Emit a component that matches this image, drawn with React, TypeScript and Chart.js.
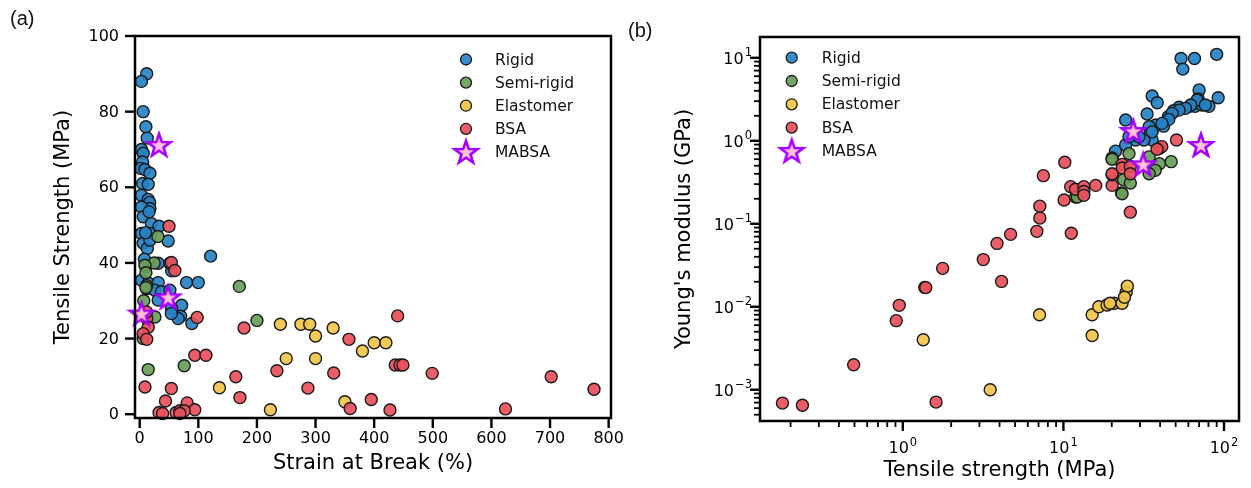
import React, { useEffect, useRef } from "react";
import { Chart, registerables } from "chart.js";
Chart.register(...registerables);

// ---------- Panel (a): strain at break (%) vs tensile strength (MPa) ----------
const rigidA: number[][] = [
  [12, 90], [3, 88], [6, 80], [10.6, 76], [12.8, 73], [3, 70], [6, 69], [5, 66.7], [1.5, 65], [8.9, 64.7],
  [17.4, 63.7], [5, 61], [14.5, 60.8], [3, 57.9], [14.5, 56.8], [17, 56], [17.4, 54.4], [3, 54.8], [6, 52.2],
  [16, 53.5], [20, 50.4], [3, 47.8], [20, 47.8], [6, 45.2], [13, 43.8], [17.4, 46], [33, 49.7], [48.6, 45.8],
  [121, 41.8], [31.6, 39.9], [54.4, 37.9], [51.5, 39.9], [3, 35.4], [14.5, 34.7], [31.6, 34.8], [80, 34.8],
  [100, 34.8], [11.8, 33.2], [26, 32.8], [37, 32.4], [51.5, 32.8], [31.6, 30.2], [71.5, 28.8], [54.4, 28],
  [69.8, 25.9], [89, 24], [65.7, 25.3], [54, 26.6], [8, 41], [10, 48],
];
const semiA: number[][] = [
  [31, 47], [10.6, 39], [24.7, 40], [8.9, 39.4], [10.6, 37.4], [11.8, 34], [170, 33.8], [7, 30], [26, 25.7],
  [200, 24.8], [6, 20], [76, 12.8], [14.5, 11.8], [10.6, 33.5],
];
const elastA: number[][] = [
  [136, 7], [240, 23.8], [275, 23.8], [290, 23.8], [300, 20.7], [330, 22.8], [380, 16.7], [400, 18.9],
  [420, 18.9], [250, 14.7], [300, 14.7], [223, 1.2], [350, 3.3],
];
const bsaA: number[][] = [
  [50, 49.7], [54, 40.1], [60, 38], [98, 25.6], [178, 22.8], [12, 25.3], [14.5, 23], [6, 21.3], [12, 19.8],
  [94, 15.6], [113, 15.6], [9, 7.2], [54, 6.8], [164, 9.9], [171, 4.4], [44, 3.5], [81, 3], [94, 1.2],
  [33, 0.45], [39, 0.2], [62, 0.45], [68.6, 0.9], [76, 0.9], [68.6, 0.2], [357, 19.8], [440, 26], [436, 13],
  [444, 13], [449, 13], [499, 10.8], [702, 9.9], [775, 6.6], [624, 1.4], [234, 11.5], [331, 10.9], [287, 6.9],
  [359, 1.5], [395, 3.9], [427, 1.1], [11.8, 27],
];
const mabsaA: number[][] = [[33, 71.2], [48.6, 30.9], [3, 26.6]];

// ---------- Panel (b): tensile strength (MPa) vs Young's modulus (GPa) ----------
const rigidB: number[][] = [
  [54, 9.8], [65.5, 9.8], [90, 11], [55.4, 7.3], [70, 4.1], [69, 3.2], [92, 3.3], [35.7, 3.46], [38.4, 2.87],
  [33.2, 2.1], [24.4, 1.78], [61, 2.6], [63.6, 2.7], [66, 2.6], [73, 2.7], [80.5, 2.6], [52.5, 2.53],
  [48.5, 2.3], [45, 1.95], [42, 1.5], [37.6, 1.55], [34.2, 1.48], [34.9, 1.23], [35.7, 1.02], [28.1, 1.02],
  [24.4, 0.89], [21.1, 0.75], [31.7, 1.02], [68, 3.1], [76.5, 2.7], [62, 2.7], [57.5, 2.46], [52.5, 2.34],
  [47.5, 2.14], [45.3, 1.81], [41.1, 1.62], [35.7, 1.28], [29.5, 1.12], [25.6, 1.12],
];
const semiB: number[][] = [
  [46.9, 0.56], [39.6, 0.53], [34.2, 0.64], [37.3, 0.44], [34.2, 0.4], [20.1, 0.62], [25.6, 0.7], [23.7, 0.34],
  [26.1, 0.31], [23, 0.235], [11.9, 0.21], [12.2, 0.21], [20.1, 0.6], [23.2, 0.23],
];
const elastB: number[][] = [
  [1.34, 0.004], [3.5, 0.001], [7.1, 0.008], [15.1, 0.008], [15.1, 0.0045], [16.6, 0.01], [18.7, 0.0105],
  [20.7, 0.011], [23.2, 0.011], [24.6, 0.015], [25, 0.0177], [24, 0.013], [19.5, 0.011],
];
const bsaB: number[][] = [
  [0.178, 0.00069], [0.237, 0.00065], [0.494, 0.002], [0.91, 0.0068], [0.95, 0.0104], [1.37, 0.0171],
  [1.39, 0.017], [1.61, 0.00071], [1.77, 0.029], [3.17, 0.037], [3.86, 0.058], [4.12, 0.0202], [4.69, 0.0745],
  [6.83, 0.081], [7.13, 0.117], [7.13, 0.163], [7.5, 0.38], [10.1, 0.193], [10.2, 0.55], [11.2, 0.077],
  [11.1, 0.28], [11.9, 0.26], [13.4, 0.28], [13.4, 0.245], [13.4, 0.22], [15.9, 0.29], [20.1, 0.29],
  [20.1, 0.39], [23.2, 0.52], [23.2, 0.47], [26.1, 0.49], [26.1, 0.4], [20.1, 0.4], [26.1, 0.138],
  [50.6, 1.02], [39.6, 0.81], [41, 0.85], [38.3, 0.79],
];
const mabsaB: number[][] = [[71.9, 0.89], [27.2, 1.31], [31.4, 0.52]];

// ---------- Labels / ticks ----------
const seriesNames = ["Rigid", "Semi-rigid", "Elastomer", "BSA", "MABSA"];
const seriesColors = ["rgba(38,130,198,0.92)", "rgba(104,158,88,0.92)", "rgba(242,196,74,0.92)", "rgba(234,80,90,0.92)", "pink"];
const aXTicks = [0, 100, 200, 300, 400, 500, 600, 700, 800];
const aYTicks = [0, 20, 40, 60, 80, 100];
const bXMajor = [1, 10, 100];
const bXExp = ["0", "1", "2"];
const bYMajor = [0.001, 0.01, 0.1, 1, 10];
const bYExp = ["\u22123", "\u22122", "\u22121", "0", "1"];
const aXTitle = "Strain at Break (%)";
const aYTitle = "Tensile Strength (MPa)";
const bXTitle = "Tensile strength (MPa)";
const bYTitle = "Young's modulus (GPa)";

const FONT = "'DejaVu Sans', sans-serif";

function makeStar(R: number, lw: number) {
  const pad = 3;
  const s = Math.ceil(2 * R + 2 * pad);
  const c = document.createElement("canvas");
  c.width = s;
  c.height = s;
  const g = c.getContext("2d")!;
  const cx = s / 2, cy = s / 2 + R * 0.08;
  g.beginPath();
  for (let i = 0; i < 10; i++) {
    const r = i % 2 === 0 ? R : R * 0.4;
    const a = -Math.PI / 2 + (i * Math.PI) / 5;
    g.lineTo(cx + r * Math.cos(a), cy + r * Math.sin(a));
  }
  g.closePath();
  g.fillStyle = "#ffc2d6";
  g.fill();
  g.lineWidth = lw;
  g.strokeStyle = "#a500ff";
  g.lineJoin = "miter";
  g.stroke();
  return c;
}

function toPts(a: number[][]) {
  return a.map(([x, y]) => ({ x, y }));
}

function makeDatasets(sets: number[][][], star: HTMLCanvasElement) {
  return sets.map((s, i) => {
    const isStar = i === 4;
    return {
      label: seriesNames[i],
      data: toPts(s),
      order: 5 - i,
      clip: false as any,
      pointStyle: isStar ? (star as any) : "circle",
      pointRadius: isStar ? 12 : 6,
      pointBorderWidth: isStar ? 0 : 1.4,
      pointBorderColor: "#1a1a1a",
      pointBackgroundColor: seriesColors[i],
      showLine: false,
    };
  });
}

function drawSup(ctx: CanvasRenderingContext2D, exp: string | undefined, x: number, baseline: number, align: "center" | "right") {
  ctx.textBaseline = "alphabetic";
  ctx.textAlign = "left";
  ctx.font = `16px ${FONT}`;
  const base = "10";
  const wb = ctx.measureText(base).width;
  ctx.font = `11.5px ${FONT}`;
  const we = exp ? ctx.measureText(exp).width : 0;
  const total = wb + (exp ? we + 1 : 0);
  const left = align === "center" ? x - total / 2 : x - total;
  ctx.font = `16px ${FONT}`;
  ctx.fillText(base, left, baseline);
  if (exp) {
    ctx.font = `11.5px ${FONT}`;
    ctx.fillText(exp, left + wb + 1, baseline - 7.5);
  }
}

function drawLegend(ctx: CanvasRenderingContext2D, mx: number, tx: number, y0: number, dy: number, star: HTMLCanvasElement) {
  for (let i = 0; i < 5; i++) {
    const y = y0 + i * dy;
    if (i === 4) {
      ctx.drawImage(star, mx - star.width / 2, y - star.height / 2);
    } else {
      ctx.beginPath();
      ctx.arc(mx, y, 5.5, 0, Math.PI * 2);
      ctx.fillStyle = seriesColors[i];
      ctx.fill();
      ctx.lineWidth = 1.3;
      ctx.strokeStyle = "#1a1a1a";
      ctx.stroke();
    }
    ctx.fillStyle = "#111";
    ctx.font = `15.5px ${FONT}`;
    ctx.textAlign = "left";
    ctx.textBaseline = "middle";
    ctx.fillText(seriesNames[i], tx, y + 1);
  }
}

function line(ctx: CanvasRenderingContext2D, x1: number, y1: number, x2: number, y2: number, w: number) {
  ctx.lineWidth = w;
  ctx.beginPath();
  ctx.moveTo(x1, y1);
  ctx.lineTo(x2, y2);
  ctx.stroke();
}

function decorA(star: HTMLCanvasElement) {
  return {
    id: "decorA",
    afterDraw(chart: any) {
      const ctx: CanvasRenderingContext2D = chart.ctx;
      const { left, right, top, bottom } = chart.chartArea;
      const xs = chart.scales.x, ys = chart.scales.y;
      ctx.save();
      ctx.strokeStyle = "#000";
      ctx.fillStyle = "#000";
      ctx.lineCap = "butt";
      aXTicks.forEach((v) => {
        const px = xs.getPixelForValue(v);
        line(ctx, px, bottom, px, bottom + 10, 2.4);
        ctx.font = `16px ${FONT}`;
        ctx.textAlign = "center";
        ctx.textBaseline = "top";
        ctx.fillText(String(v), px, bottom + 13);
      });
      aYTicks.forEach((v) => {
        const py = ys.getPixelForValue(v);
        line(ctx, left - 10, py, left, py, 2.4);
        ctx.font = `16px ${FONT}`;
        ctx.textAlign = "right";
        ctx.textBaseline = "middle";
        ctx.fillText(String(v), left - 16, py + 1);
      });
      ctx.lineWidth = 2.5;
      ctx.strokeRect(left, top, right - left, bottom - top);
      ctx.font = `21px ${FONT}`;
      ctx.textAlign = "center";
      ctx.textBaseline = "middle";
      ctx.fillText(aXTitle, (left + right) / 2, 464);
      ctx.save();
      ctx.translate(64, (top + bottom) / 2);
      ctx.rotate(-Math.PI / 2);
      ctx.fillText(aYTitle, 0, 0);
      ctx.restore();
      drawLegend(ctx, 466, 495, 59.5, 23.1, star);
      ctx.restore();
    },
  };
}

function decorB(star: HTMLCanvasElement) {
  return {
    id: "decorB",
    afterDraw(chart: any) {
      const ctx: CanvasRenderingContext2D = chart.ctx;
      const { left, right, top, bottom } = chart.chartArea;
      const xs = chart.scales.x, ys = chart.scales.y;
      ctx.save();
      ctx.strokeStyle = "#000";
      ctx.fillStyle = "#000";
      // minor ticks
      bXMajor.concat([0.1]).forEach((dec) => {
        for (let k = 2; k <= 9; k++) {
          const v = dec * k;
          if (v < xs.min || v > xs.max) continue;
          const px = xs.getPixelForValue(v);
          line(ctx, px, bottom, px, bottom + 6, 1.8);
        }
      });
      [0.0001].concat(bYMajor).forEach((dec) => {
        for (let k = 2; k <= 9; k++) {
          const v = dec * k;
          if (v < ys.min || v > ys.max) continue;
          const py = ys.getPixelForValue(v);
          line(ctx, left - 6, py, left, py, 1.8);
        }
      });
      bXMajor.forEach((v, i) => {
        const px = xs.getPixelForValue(v);
        line(ctx, px, bottom, px, bottom + 10, 2.4);
        drawSup(ctx, bXExp[i], px, bottom + 32, "center");
      });
      bYMajor.forEach((v, i) => {
        const py = ys.getPixelForValue(v);
        line(ctx, left - 10, py, left, py, 2.4);
        drawSup(ctx, bYExp[i], left - 8, py + 6, "right");
      });
      ctx.lineWidth = 2.5;
      ctx.strokeRect(left, top, right - left, bottom - top);
      ctx.font = `21px ${FONT}`;
      ctx.textAlign = "center";
      ctx.textBaseline = "middle";
      ctx.fillText(bXTitle, (left + right) / 2, 471);
      ctx.save();
      ctx.translate(60, (top + bottom) / 2);
      ctx.rotate(-Math.PI / 2);
      ctx.fillText(bYTitle, 0, 0);
      ctx.restore();
      drawLegend(ctx, 166.7, 196.7, 57.7, 23.3, star);
      ctx.restore();
    },
  };
}

export default function App() {
  const refA = useRef<HTMLCanvasElement>(null);
  const refB = useRef<HTMLCanvasElement>(null);

  useEffect(() => {
    const star = makeStar(12, 2.6);
    const chartA = new Chart(refA.current!, {
      type: "scatter",
      data: { datasets: makeDatasets([rigidA, semiA, elastA, bsaA, mabsaA], star) as any },
      options: {
        animation: false,
        responsive: false,
        maintainAspectRatio: false,
        layout: { padding: { left: 135, right: 14, top: 36, bottom: 70 } },
        scales: {
          x: { type: "linear", min: -8, max: 804, display: false },
          y: { type: "linear", min: -1, max: 100, display: false },
        },
        plugins: { legend: { display: false }, tooltip: { enabled: false } },
      },
      plugins: [decorA(star)],
    });
    const chartB = new Chart(refB.current!, {
      type: "scatter",
      data: { datasets: makeDatasets([rigidB, semiB, elastB, bsaB, mabsaB], star) as any },
      options: {
        animation: false,
        responsive: false,
        maintainAspectRatio: false,
        layout: { padding: { left: 135, right: 11, top: 37, bottom: 67 } },
        scales: {
          x: { type: "logarithmic", min: 0.129, max: 124, display: false },
          y: { type: "logarithmic", min: 0.00042, max: 17.8, display: false },
        },
        plugins: { legend: { display: false }, tooltip: { enabled: false } },
      },
      plugins: [decorB(star)],
    });
    return () => {
      chartA.destroy();
      chartB.destroy();
    };
  }, []);

  const panelLabel: React.CSSProperties = {
    position: "absolute",
    fontFamily: "'Liberation Sans', Arial, sans-serif",
    fontSize: 20,
    color: "#111",
    lineHeight: "24px",
  };

  return (
    <div style={{ position: "absolute", left: 0, top: 0, width: 1251, height: 488, background: "#fff", overflow: "hidden" }}>
      <canvas ref={refA} width={625} height={488} style={{ position: "absolute", left: 0, top: 0, width: 625, height: 488 }} />
      <canvas ref={refB} width={626} height={488} style={{ position: "absolute", left: 625, top: 0, width: 626, height: 488 }} />
      <div style={{ ...panelLabel, left: 10, top: 6 }}>(a)</div>
      <div style={{ ...panelLabel, left: 628, top: 18 }}>(b)</div>
    </div>
  );
}
